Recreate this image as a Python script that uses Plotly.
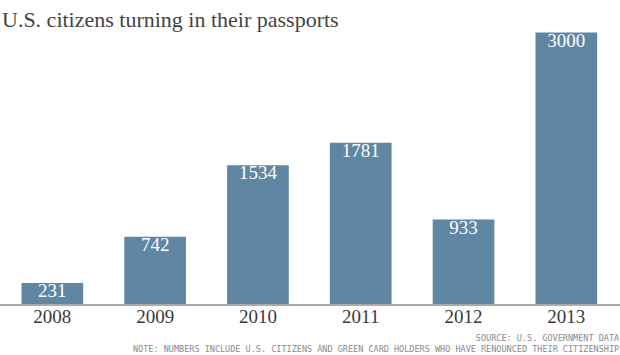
import plotly.graph_objects as go

years = ["2008", "2009", "2010", "2011", "2012", "2013"]
renunciations = [231, 742, 1534, 1781, 933, 3000]

title_text = "U.S. citizens turning in their passports"
source_text = "SOURCE: U.S. GOVERNMENT DATA"
note_text = "NOTE: NUMBERS INCLUDE U.S. CITIZENS AND GREEN CARD HOLDERS WHO HAVE RENOUNCED THEIR CITIZENSHIP"

W, H = 620, 355
T, B = 25, 51
BAR = "#5f86a3"

fig = go.Figure()
fig.add_trace(
    go.Bar(
        x=years,
        y=renunciations,
        marker=dict(color=BAR, line=dict(width=0)),
        hoverinfo="skip",
    )
)
fig.add_trace(
    go.Scatter(
        x=years,
        y=renunciations,
        mode="text",
        text=[str(v) for v in renunciations],
        textposition="bottom center",
        textfont=dict(family="Liberation Serif", size=19, color="white"),
        hoverinfo="skip",
        cliponaxis=False,
    )
)

fig.update_layout(
    width=W,
    height=H,
    margin=dict(l=0, r=0, t=T, b=B),
    paper_bgcolor="white",
    plot_bgcolor="white",
    bargap=0.4,
    showlegend=False,
    title=dict(
        text=title_text,
        font=dict(family="Liberation Serif", size=22, color="#444444"),
        xref="container", yref="container",
        x=2 / W, xanchor="left",
        y=1 - 19 / H, yanchor="middle",
    ),
    xaxis=dict(
        type="category",
        range=[-0.509, 5.522],
        showline=True,
        linecolor="#aaaaaa",
        linewidth=1.5,
        ticks="",
        showgrid=False,
        zeroline=False,
        ticklabelstandoff=-6,
        tickfont=dict(family="Liberation Serif", size=19, color="#3a3a3a"),
        fixedrange=True,
    ),
    yaxis=dict(
        range=[0, 3083],
        visible=False,
        showgrid=False,
        zeroline=False,
        fixedrange=True,
    ),
    annotations=[
        dict(
            text=source_text + "<br>" + note_text,
            align="right",
            xref="paper", yref="paper",
            x=1, xanchor="right",
            y=-(355 - (H - B)) / (H - T - B), yanchor="bottom",
            showarrow=False,
            borderpad=0,
            font=dict(family="DejaVu Sans Mono", size=8.5, color="#8a8a8a"),
        ),
    ],
)

fig.write_html(
    "out.html",
    config={"displayModeBar": False},
    post_script="document.body.style.margin='0px';document.body.style.overflow='hidden';",
)
